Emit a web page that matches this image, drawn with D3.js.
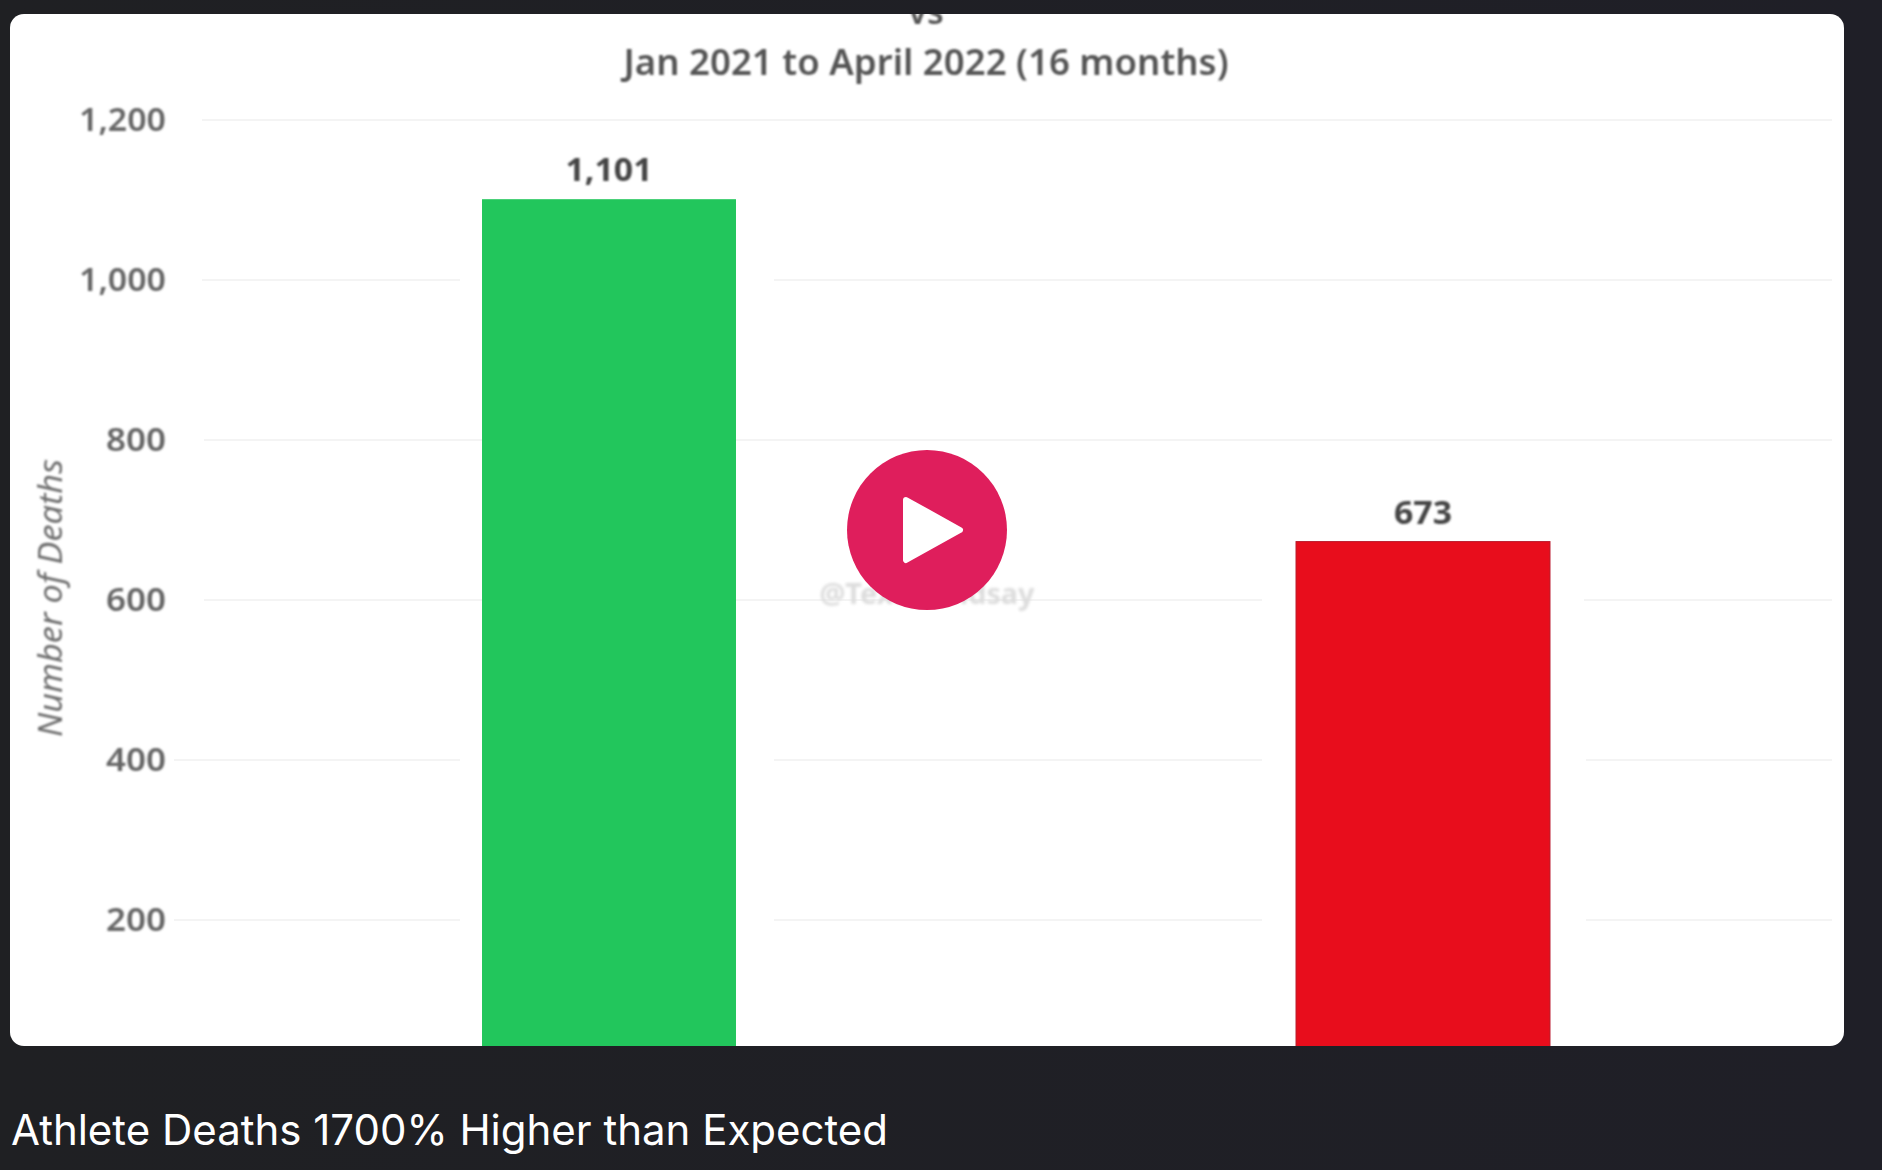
<!DOCTYPE html>
<html><head><meta charset="utf-8">
<script src="https://cdn.jsdelivr.net/npm/d3@7/dist/d3.min.js"></script>
<style>html,body{margin:0;padding:0;background:#1f1f24;overflow:hidden}svg{display:block}</style>
</head><body><div id="c"></div>
<script>
const categories = ["Left bar (label cropped)", "Right bar (label cropped)"];
const deaths = [1101, 673];
const barColors = ["#24c65b", "#e80c1c"];
const barEdges = ["none", "#b91a28"];
const yTicks = [200, 400, 600, 800, 1000, 1200];
const clippedWord = "vs";
const subtitle = "Jan 2021 to April 2022 (16 months)";
const yLabel = "Number of Deaths";
const watermark = "@TexasLindsay";
const caption = "Athlete Deaths 1700% Higher than Expected";

const W = 1882, H = 1170;
const card = {x: 10, y: 14, w: 1834, h: 1032, r: 14};
const svg = d3.select("#c").append("svg").attr("width", W).attr("height", H);
const defs = svg.append("defs");
defs.append("clipPath").attr("id", "card").append("rect")
  .attr("x", card.x).attr("y", card.y).attr("width", card.w).attr("height", card.h).attr("rx", card.r);
defs.append("filter").attr("id", "soft").append("feGaussianBlur").attr("stdDeviation", 0.8);
defs.append("filter").attr("id", "soft2").append("feGaussianBlur").attr("stdDeviation", 1.4);
defs.append("filter").attr("id", "edge").append("feGaussianBlur").attr("stdDeviation", 0.6);
const bg = defs.append("linearGradient").attr("id", "bg");
bg.append("stop").attr("offset", "0").attr("stop-color", "#1f2023");
bg.append("stop").attr("offset", "1").attr("stop-color", "#1f1f27");

svg.append("rect").attr("width", W).attr("height", H).attr("fill", "url(#bg)");
svg.append("rect").attr("x", card.x).attr("y", card.y).attr("width", card.w).attr("height", card.h)
  .attr("rx", card.r).attr("fill", "#fff");

const g = svg.append("g").attr("clip-path", "url(#card)");
const font = "'Noto Sans', sans-serif";

const y = d3.scaleLinear().domain([0, 1200]).range([1080, 120]);
const x = d3.scaleBand().domain(categories).range([202, 1830]).paddingInner(0.688).paddingOuter(0.344);

// Gridlines: compression halos around the bars break some of them in the source video frame
const gridSpans = new Map([
  [1200, [[202, 1832]]],
  [1000, [[202, 460], [774, 1832]]],
  [800,  [[204, 1832]]],
  [600,  [[204, 1262], [1584, 1832]]],
  [400,  [[174, 460], [774, 1262], [1586, 1832]]],
  [200,  [[174, 460], [774, 1262], [1586, 1832]]]
]);
yTicks.forEach(t => gridSpans.get(t).forEach(s => {
  g.append("line").attr("x1", s[0]).attr("x2", s[1]).attr("y1", y(t)).attr("y2", y(t))
    .attr("stroke", "#f4f4f4").attr("stroke-width", 2);
}));

// Watermark, sits under the play button
g.append("text").attr("x", 927).attr("y", 604).attr("text-anchor", "middle")
  .attr("font-family", font).attr("font-weight", 700).attr("font-size", 28)
  .attr("textLength", 215).attr("lengthAdjust", "spacingAndGlyphs")
  .attr("fill", "#dcdcdc").attr("filter", "url(#soft2)").text(watermark);

// Bars
g.selectAll("rect.bar").data(categories).join("rect").attr("class", "bar")
  .attr("x", d => x(d)).attr("width", x.bandwidth())
  .attr("y", (d, i) => y(deaths[i])).attr("height", (d, i) => y(0) - y(deaths[i]))
  .attr("fill", (d, i) => barColors[i]).attr("stroke", (d, i) => barEdges[i]).attr("stroke-width", 1)
  .attr("filter", "url(#edge)");

// Value labels
const labelWidths = [87, 58];
g.selectAll("text.val").data(categories).join("text").attr("class", "val")
  .attr("x", d => x(d) + x.bandwidth() / 2)
  .attr("y", (d, i) => y(deaths[i]) - 18)
  .attr("text-anchor", "middle").attr("font-family", font).attr("font-weight", 700).attr("font-size", 33)
  .attr("textLength", (d, i) => labelWidths[i]).attr("lengthAdjust", "spacingAndGlyphs")
  .attr("fill", "#444").attr("filter", "url(#soft)")
  .text((d, i) => d3.format(",")(deaths[i]));

// Y axis
const axis = g.append("g").attr("transform", "translate(166,0)")
  .call(d3.axisLeft(y).tickValues(yTicks).tickFormat(d3.format(",")).tickSize(0).tickPadding(0));
axis.select(".domain").remove();
axis.selectAll("text").attr("font-family", font).attr("font-weight", 600).attr("font-size", 33)
  .attr("fill", "#666").attr("filter", "url(#soft)")
  .attr("textLength", d => d >= 1000 ? 87 : 60).attr("lengthAdjust", "spacingAndGlyphs");

// Y label
g.append("text").attr("transform", "translate(62,598) rotate(-90)").attr("text-anchor", "middle")
  .attr("font-family", font).attr("font-style", "italic").attr("font-size", 32)
  .attr("textLength", 278).attr("lengthAdjust", "spacingAndGlyphs")
  .attr("fill", "#707070").attr("filter", "url(#soft)").text(yLabel);

// Titles
g.append("text").attr("x", 926).attr("y", 24).attr("text-anchor", "middle")
  .attr("font-family", font).attr("font-weight", 600).attr("font-size", 34)
  .attr("fill", "#555").attr("filter", "url(#soft)").text(clippedWord);
g.append("text").attr("x", 926).attr("y", 74.5).attr("text-anchor", "middle")
  .attr("font-family", font).attr("font-weight", 600).attr("font-size", 36)
  .attr("textLength", 605).attr("lengthAdjust", "spacingAndGlyphs")
  .attr("fill", "#555").attr("filter", "url(#soft)").text(subtitle);

// Play button
svg.append("circle").attr("cx", 927).attr("cy", 530).attr("r", 80).attr("fill", "#df1e5c");
const tri = d3.line();
svg.append("path").attr("d", tri([[906, 500], [960, 530], [906, 560]]) + "Z")
  .attr("fill", "#fff").attr("stroke", "#fff").attr("stroke-width", 6).attr("stroke-linejoin", "round");

// Caption
svg.append("text").attr("x", 11).attr("y", 1145)
  .attr("font-family", "Inter, sans-serif").attr("font-size", 42)
  .attr("textLength", 877).attr("lengthAdjust", "spacingAndGlyphs")
  .attr("fill", "#fff").text(caption);
</script></body></html>
